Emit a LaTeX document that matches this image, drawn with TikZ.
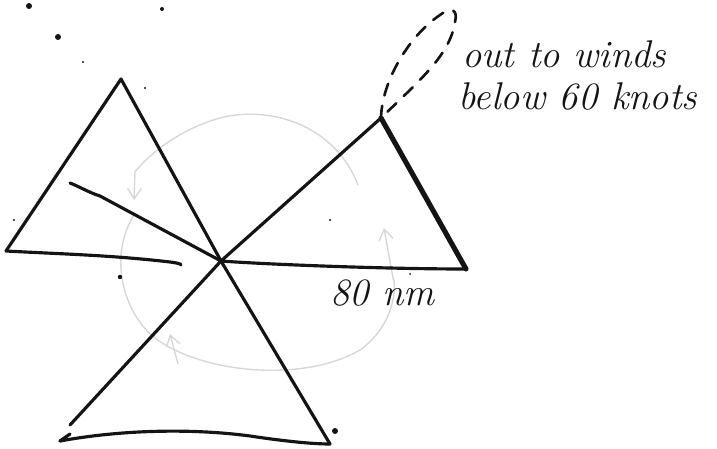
\documentclass[tikz,border=0pt]{standalone}
\usepackage{tikz}
\usetikzlibrary{arrows.meta}
\definecolor{pencil}{RGB}{20,20,20}
\definecolor{faint}{RGB}{215,215,215}

\begin{document}
\begin{tikzpicture}[x=0.02cm, y=-0.02cm, line cap=round, line join=round,
    stroke/.style={draw=pencil, line width=1.8pt},
    heavy/.style={draw=pencil, line width=2.9pt},
    loopline/.style={draw=pencil, line width=1.5pt, dash pattern=on 7pt off 6pt},
    track/.style={draw=faint, line width=0.8pt},
    hand/.style={font=\fontsize{22}{26}\selectfont\itshape, text=pencil, inner sep=0pt},
    speck/.style={fill=pencil}]
        \useasboundingbox (0,0) rectangle (717,449);
        % Centre and corners
        \coordinate (ctr) at (221,261);
        \coordinate (nwtop) at (121,79);
        \coordinate (nwleft) at (6,251);
        \coordinate (nwbase) at (181,265);
        \coordinate (nwcut) at (70,183);
        \coordinate (etop) at (381,118);
        \coordinate (eright) at (466,269);
        \coordinate (sleft) at (70,425);
        \coordinate (sbase) at (60,441);
        \coordinate (sright) at (330,444);
        % Faint track round the centre
        \draw[track] (358,185) .. controls (335,125) and (270,105) .. (220,118)
            .. controls (170,132) and (140,165) .. (135,172);
        \draw[track, -{Straight Barb[length=6pt, width=8pt]}] (135,172) -- (134,200);
        \draw[track] (134,215) .. controls (112,250) and (118,300) .. (148,332)
            .. controls (190,372) and (300,385) .. (360,350)
            .. controls (395,325) and (397,285) .. (393,278);
        \draw[track, -{Straight Barb[length=6pt, width=8pt]}] (393,278) -- (384,228);
        \draw[track, -{Straight Barb[length=6pt, width=8pt]}] (178,364) -- (170,334);
        % Upper-left triangle
        \draw[stroke] (nwleft) -- (nwtop) -- (ctr);
        \draw[stroke] (nwleft) .. controls (60,254) and (110,255) .. (170,262)
            .. controls (178,263) and (181,264) .. (nwbase);
        \draw[stroke] (nwcut) .. controls (78,186) and (90,193) .. (100,196) -- (ctr);
        % Right triangle
        \draw[stroke] (ctr) -- (etop);
        \draw[heavy] (etop) -- (eright);
        \draw[stroke] (ctr) .. controls (260,264) and (380,269) .. (eright);
        % Lower triangle
        \draw[stroke] (ctr) -- (sleft);
        \draw[stroke] (ctr) -- (sright);
        \draw[stroke] (sbase) .. controls (120,430) and (190,428) .. (250,436)
            .. controls (290,442) and (315,444) .. (sright);
        \draw[stroke] (sbase) -- (70,434);
        % Dashed loop out from the right apex
        \draw[loopline] (etop) .. controls (382,80) and (410,35) .. (440,15)
            .. controls (452,6) and (458,10) .. (455,22)
            .. controls (450,55) and (420,80) .. (etop);
        % Labels
        \node[hand, anchor=base west] (windsout) at (462,68) {out to winds};
        \node[hand, anchor=base west] (windsbelow) at (458,110) {below 60 knots};
        \node[hand, anchor=base west] (range) at (330,306) {80 nm};
        % Specks
        \fill[speck] (29,6) circle (3) (58,37) circle (3) (162,9) circle (2)
            (120,277) circle (2.2) (335,431) circle (3)
            (83,62) circle (1.2) (145,88) circle (1.2) (330,220) circle (1.2)
            (14,220) circle (1.2) (410,274) circle (1);
    \end{tikzpicture}
\end{document}
